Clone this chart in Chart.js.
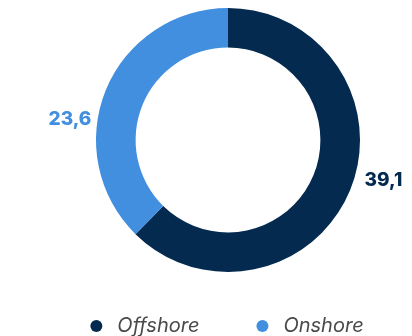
<!DOCTYPE html>
<html>
<head>
<meta charset="utf-8">
<script src="https://cdn.jsdelivr.net/npm/chart.js@4.4.0/dist/chart.umd.min.js"></script>
<style>
  html, body { margin: 0; padding: 0; background: #fff; }
  #wrap { width: 412px; height: 336px; }
</style>
</head>
<body>
<div id="wrap"><canvas id="windChart"></canvas></div>
<script>
// Capacidad instalada por tipo
const categories = ['Offshore', 'Onshore'];
const values = [39.1, 23.6];
const colors = ['#052a4f', '#418fde'];

// valores escritos fuera del anillo
const outerLabels = {
    id: 'outerLabels',
    afterDatasetsDraw(chart, args, opts) {
        const ctx = chart.ctx;
        const meta = chart.getDatasetMeta(0);
        ctx.save();
        ctx.font = opts.font;
        ctx.textBaseline = 'middle';
        meta.data.forEach((arc, i) => {
            const p = arc.getProps(['x', 'y', 'startAngle', 'endAngle', 'outerRadius'], true);
            const mid = (p.startAngle + p.endAngle) / 2;
            const dx = Math.cos(mid);
            const dy = Math.sin(mid) * opts.squash;
            const len = Math.hypot(dx, dy);
            const r = p.outerRadius + opts.gap;
            ctx.textAlign = dx >= 0 ? 'left' : 'right';
            ctx.fillStyle = colors[i];
            ctx.fillText(values[i].toFixed(1).replace('.', ','), p.x + dx / len * r, p.y + dy / len * r + opts.shiftY);
        });
        ctx.restore();
    }
};

// leyenda abajo: punto + nombre en cursiva
const dotLegend = {
    id: 'dotLegend',
    afterDraw(chart, args, opts) {
        const ctx = chart.ctx;
        ctx.save();
        ctx.font = opts.font;
        ctx.textBaseline = 'middle';
        ctx.textAlign = 'left';
        const widths = categories.map(c => ctx.measureText(c).width);
        let total = 0;
        widths.forEach((w, i) => { total += opts.textOffset + w + (i < widths.length - 1 ? opts.itemGap : 0); });
        const area = chart.chartArea;
        let x = (area.left + area.right) / 2 + opts.shiftX - total / 2 + opts.dotRadius;
        const y = chart.height - opts.bottom;
        categories.forEach((c, i) => {
            ctx.fillStyle = colors[i];
            ctx.beginPath();
            ctx.arc(x, y, opts.dotRadius, 0, Math.PI * 2);
            ctx.fill();
            ctx.fillStyle = opts.color;
            ctx.fillText(c, x + opts.textOffset, y);
            x += opts.textOffset + widths[i] + opts.itemGap;
        });
        ctx.restore();
    }
};

const ctx = document.getElementById('windChart').getContext('2d');
new Chart(ctx, {
    type: 'doughnut',
    data: {
        labels: categories,
        datasets: [{
            data: values,
            backgroundColor: colors,
            borderWidth: 0
        }]
    },
    options: {
        responsive: true,
        maintainAspectRatio: false,
        animation: false,
        radius: 132,
        cutout: '70%',
        layout: { padding: { top: 15, left: 50, right: 6, bottom: 71 } },
        plugins: {
            tooltip: { enabled: false },
            legend: { display: false },
            outerLabels: { font: '800 19px Inter, sans-serif', gap: 8, squash: 0.55, shiftY: 10 },
            dotLegend: {
                font: 'italic 20px Inter, sans-serif',
                color: '#4a4a4a',
                dotRadius: 6,
                textOffset: 21,
                itemGap: 63,
                shiftX: -4,
                bottom: 10
            }
        }
    },
    plugins: [outerLabels, dotLegend]
});
</script>
</body>
</html>
